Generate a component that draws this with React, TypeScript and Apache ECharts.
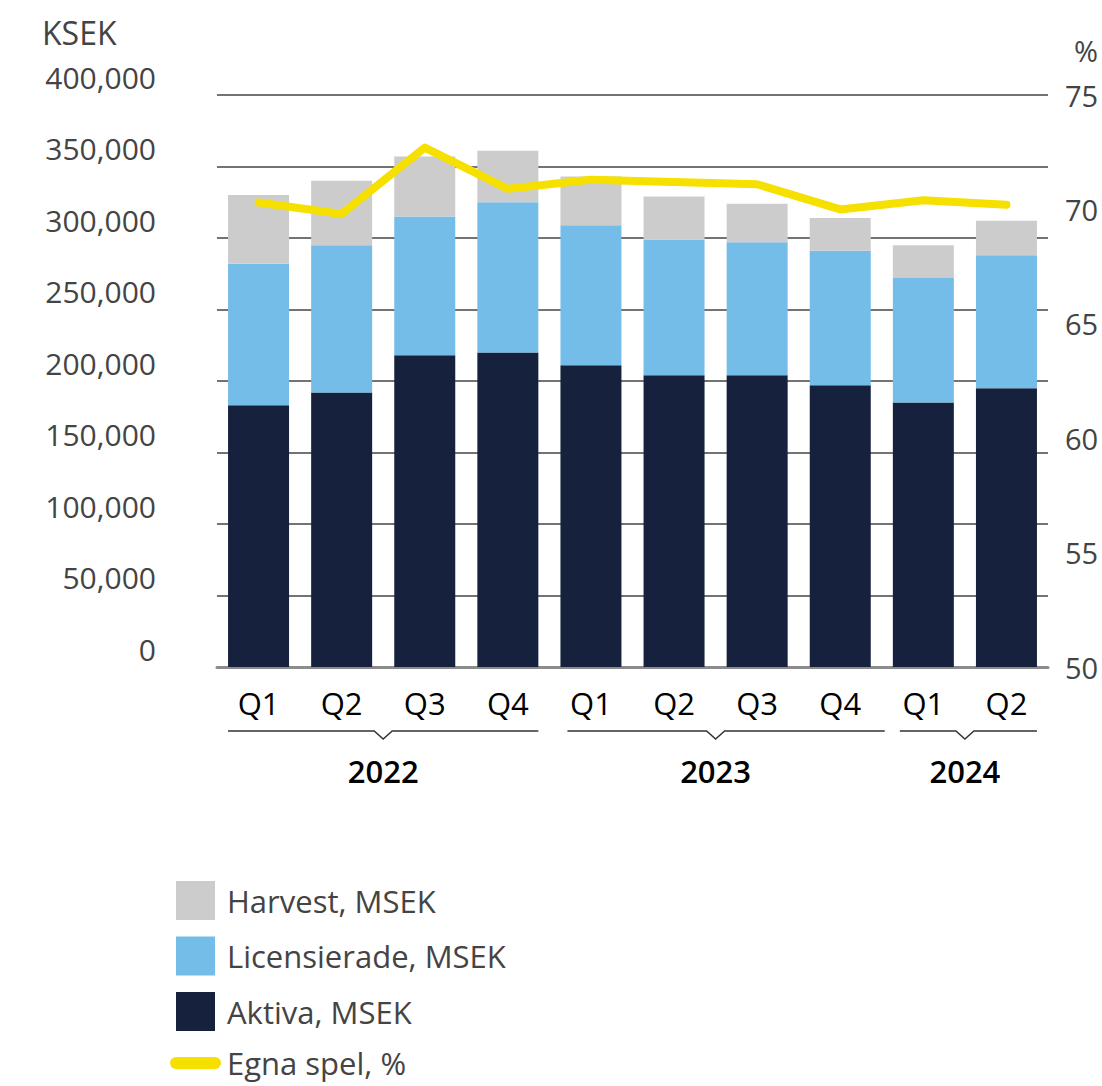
import React, { useEffect, useRef } from "react";
import * as echarts from "echarts";

const quarters = ["Q1", "Q2", "Q3", "Q4", "Q1", "Q2", "Q3", "Q4", "Q1", "Q2"];
const years = ["2022", "2023", "2024"];
const quartersPerYear = [4, 4, 2];

const aktiva = [183000, 192000, 218000, 220000, 211000, 204000, 204000, 197000, 185000, 195000];
const licensierade = [99000, 103000, 97000, 105000, 98000, 95000, 93000, 94000, 87000, 93000];
const harvest = [48000, 45000, 42000, 36000, 34000, 30000, 27000, 23000, 23000, 24000];
const egnaSpel = [70.3, 69.8, 72.7, 70.9, 71.3, 71.2, 71.1, 70.0, 70.4, 70.2];

const leftTicks = { min: 0, max: 400000, interval: 50000 };
const rightTicks = { min: 50, max: 75, interval: 5 };

const FONT = "'Open Sans', sans-serif";
const BAR_W = 61;

export default function App() {
  const ref = useRef<HTMLDivElement>(null);

  useEffect(() => {
    document.body.style.margin = "0";
    if (!ref.current) return;
    const chart = echarts.init(ref.current, null, { renderer: "svg" });

    const option: any = {
      animation: false,
      backgroundColor: "#ffffff",
      textStyle: { fontFamily: FONT },
      title: [
        {
          text: "KSEK",
          left: 42,
          top: 16,
          padding: 0,
          textStyle: { fontFamily: FONT, fontSize: 32, fontWeight: "normal", color: "#444" },
        },
        {
          text: "%",
          left: 1074,
          top: 36,
          padding: 0,
          textStyle: { fontFamily: FONT, fontSize: 29, fontWeight: "normal", color: "#444" },
        },
      ],
      grid: { left: 217, right: 54, top: 95, bottom: 419, containLabel: false },
      legend: {
        orient: "vertical",
        left: 170,
        top: 881,
        padding: 0,
        itemWidth: 39,
        itemHeight: 39,
        itemGap: 16.5,
        selectedMode: false,
        textStyle: { fontFamily: FONT, fontSize: 31, color: "#444", padding: [0, 0, 0, 7] },
        data: [
          { name: "Harvest, MSEK", icon: "rect" },
          { name: "Licensierade, MSEK", icon: "rect" },
          { name: "Aktiva, MSEK", icon: "rect" },
          { name: "Egna spel, %", itemStyle: { opacity: 0 }, lineStyle: { width: 12, cap: "round" } },
        ],
      },
      xAxis: {
        type: "category",
        data: quarters,
        axisTick: { show: false },
        axisLine: { show: true, lineStyle: { color: "#8c8c8c", width: 3 } },
        axisLabel: { fontFamily: FONT, fontSize: 31, color: "#000", margin: 20 },
      },
      yAxis: [
        {
          type: "value",
          min: leftTicks.min,
          max: leftTicks.max,
          interval: leftTicks.interval,
          axisLine: { show: false },
          axisTick: { show: false },
          splitLine: { show: true, lineStyle: { color: "#444", width: 1.5 } },
          axisLabel: {
            fontFamily: FONT,
            fontSize: 30,
            color: "#444",
            margin: 61,
            verticalAlign: "bottom",
            padding: [0, 0, 3, 0],
            formatter: (v: number) => v.toLocaleString("en-US"),
          },
        },
        {
          type: "value",
          min: rightTicks.min,
          max: rightTicks.max,
          interval: rightTicks.interval,
          position: "right",
          axisLine: { show: false },
          axisTick: { show: false },
          splitLine: { show: false },
          axisLabel: { fontFamily: FONT, fontSize: 29, color: "#444", margin: 17 },
        },
      ],
      series: [
        {
          name: "Aktiva, MSEK",
          type: "bar",
          stack: "total",
          barWidth: BAR_W,
          data: aktiva,
          itemStyle: { color: "#15213d" },
        },
        {
          name: "Licensierade, MSEK",
          type: "bar",
          stack: "total",
          barWidth: BAR_W,
          data: licensierade,
          itemStyle: { color: "#75bde9" },
        },
        {
          name: "Harvest, MSEK",
          type: "bar",
          stack: "total",
          barWidth: BAR_W,
          data: harvest,
          itemStyle: { color: "#cccccc" },
        },
        {
          name: "Egna spel, %",
          type: "line",
          yAxisIndex: 1,
          data: egnaSpel,
          symbol: "none",
          showSymbol: false,
          z: 5,
          lineStyle: { color: "#f6e000", width: 8, cap: "round", join: "round" },
          itemStyle: { color: "#f6e000" },
        },
      ],
    };

    chart.setOption(option);

    // Year group brackets and labels, placed from the category axis scale
    const graphics: any[] = [];
    let start = 0;
    const bracketY = 731;
    years.forEach((yr, gi) => {
      const n = quartersPerYear[gi];
      const first = chart.convertToPixel({ xAxisIndex: 0 }, start) as number;
      const last = chart.convertToPixel({ xAxisIndex: 0 }, start + n - 1) as number;
      const x0 = first - BAR_W / 2 + (gi > 0 ? 7 : 0);
      const x1 = last + BAR_W / 2 + (gi === 1 ? 14 : 0);
      const mid = (first + last) / 2;
      graphics.push({
        type: "polyline",
        silent: true,
        shape: {
          points: [
            [x0, bracketY],
            [mid - 9, bracketY],
            [mid, bracketY + 8],
            [mid + 9, bracketY],
            [x1, bracketY],
          ],
        },
        style: { stroke: "#333", lineWidth: 1.5, fill: null },
      });
      graphics.push({
        type: "text",
        silent: true,
        x: mid,
        y: 771,
        style: {
          text: yr,
          fontFamily: FONT,
          fontSize: 31,
          fontWeight: 600,
          fill: "#000",
          align: "center",
          verticalAlign: "middle",
        },
      });
      start += n;
    });
    chart.setOption({ graphic: graphics });

    return () => {
      chart.dispose();
    };
  }, []);

  return <div ref={ref} style={{ width: 1102, height: 1086 }} />;
}
